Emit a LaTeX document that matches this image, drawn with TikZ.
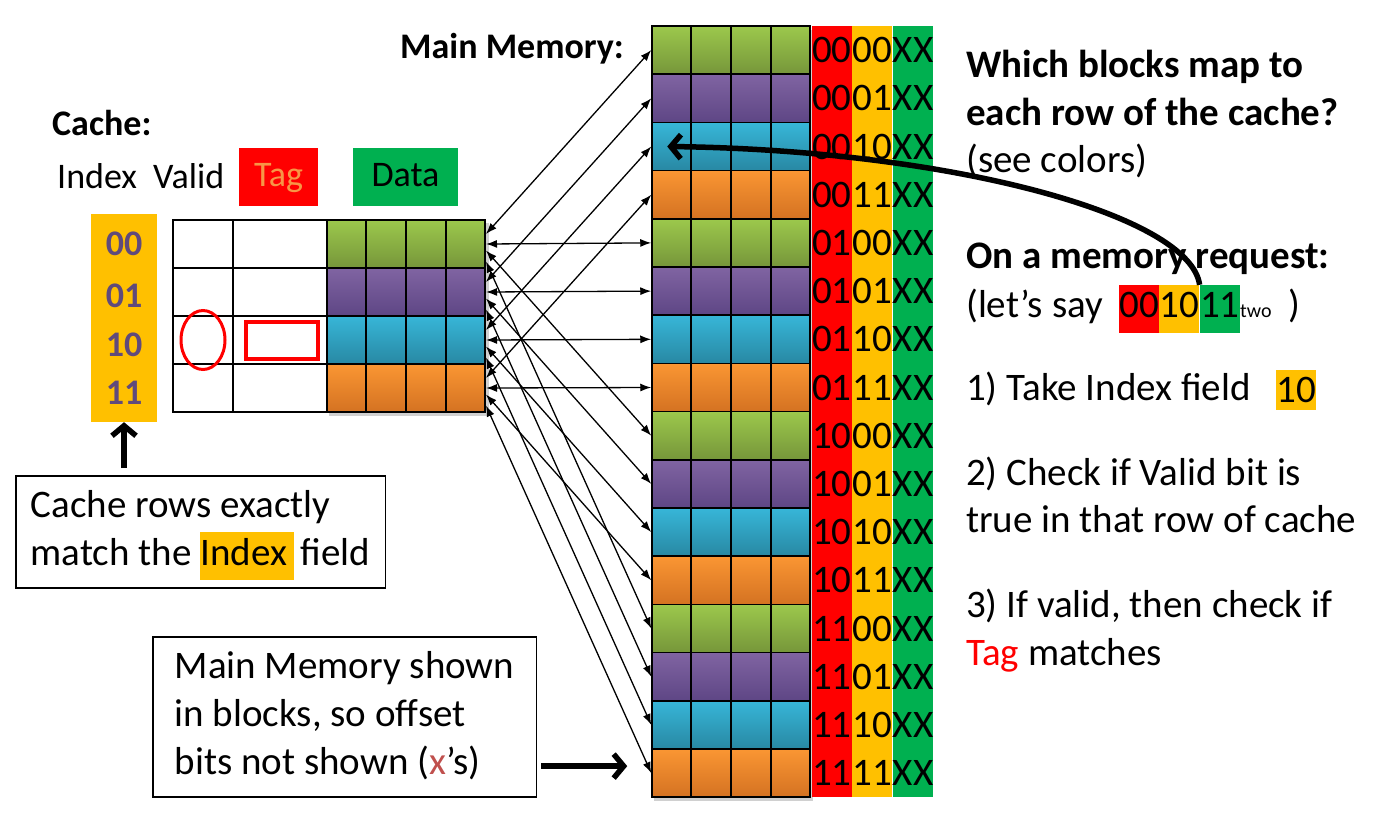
\documentclass[tikz,border=0pt]{standalone}
\usepackage{fontspec}
\setmainfont{Carlito}
\usetikzlibrary{arrows.meta, positioning, calc, shadows}

\definecolor{memred}{HTML}{FF0000}
\definecolor{memyellow}{HTML}{FFC000}
\definecolor{memgreen}{HTML}{00B050}
\definecolor{tagtext}{HTML}{F79646}
\definecolor{idxtext}{HTML}{604A7B}
\definecolor{xred}{HTML}{C0504D}
\definecolor{grntop}{HTML}{9CC84C}
\definecolor{grnbot}{HTML}{76963A}
\definecolor{prptop}{HTML}{8064A2}
\definecolor{prpbot}{HTML}{5E4685}
\definecolor{blutop}{HTML}{37B6D8}
\definecolor{blubot}{HTML}{2888A3}
\definecolor{orgtop}{HTML}{FA9633}
\definecolor{orgbot}{HTML}{D47222}

\newcommand{\bodyfont}{\fontsize{39}{48}\selectfont}
\newcommand{\headfont}{\fontsize{36}{44}\selectfont}

\tikzset{
  blk/.style={draw=black, line width=1.5pt, minimum width=158pt, minimum height=48.2pt, inner sep=0pt},
  grn/.style={top color=grntop, bottom color=grnbot},
  prp/.style={top color=prptop, bottom color=prpbot},
  blu/.style={top color=blutop, bottom color=blubot},
  org/.style={top color=orgtop, bottom color=orgbot},
  bits/.style={minimum width=40pt, minimum height=48.2pt, inner sep=0pt, text depth=0pt},
  cell/.style={draw=black, line width=2pt, minimum height=48pt, inner sep=0pt},
  txt/.style={anchor=base west, inner sep=0pt},
  note/.style={draw=black, line width=1.5pt, align=left, anchor=north west, inner ysep=8pt},
  link/.style={{Latex[length=11pt,width=8pt]}-{Latex[length=11pt,width=8pt]}, line width=1.3pt},
  bigarrow/.style={-{Straight Barb[length=10pt,width=24pt]}, line width=5.5pt}
}

\begin{document}
\begin{tikzpicture}[x=1pt, y=-1pt, font=\bodyfont]
  \fill[white] (0,0) rectangle (1397,825);
  \useasboundingbox (0,0) rectangle (1397,825);

  % Main memory blocks and addresses
  \fill[black!30, opacity=0.6] (654,30) rectangle (813,801);
  \foreach \j/\tb in {0/00,1/01,2/10,3/11}{
    \foreach \i/\ib/\col in {0/00/grn,1/01/prp,2/10/blu,3/11/org}{
      \pgfmathtruncatemacro\k{4*\j+\i}
      \node[blk, \col] (m\k) at (731, 50.1+192.8*\j+48.2*\i) {};
      \foreach \c in {1,2,3}
        \draw[line width=1.5pt] ($(m\k.north west)!\c/4!(m\k.north east)$) -- ($(m\k.south west)!\c/4!(m\k.south east)$);
      \node[bits, fill=memred, right=1pt of m\k] (t\k) {\tb};
      \node[bits, fill=memyellow, right=0pt of t\k] (n\k) {\ib};
      \node[bits, fill=memgreen, right=0pt of n\k] (o\k) {XX};
    }
  }
  \node[txt, font=\headfont\bfseries] (memlbl) at (400,58) {Main Memory:};

  % Cache
  \node[txt, font=\headfont\bfseries] (cachelbl) at (52,135) {Cache:};
  \node[txt, font=\headfont] (idxlbl) at (57,188) {Index};
  \node[txt, font=\headfont] (validlbl) at (153,188) {Valid};
  \node[fill=memred, minimum width=79pt, minimum height=58pt, inner sep=0pt, text height=26pt, text depth=8pt,
        text=tagtext, font=\headfont] (taglbl) at (278.5,177) {Tag};
  \node[fill=memgreen, minimum width=105pt, minimum height=58pt, inner sep=0pt, text height=26pt, text depth=8pt,
        font=\headfont] (datalbl) at (405.5,177) {Data};

  \node[fill=memyellow, minimum width=66pt, minimum height=208pt, inner sep=0pt] (idx) at (124,318) {};
  \foreach \i/\ib/\y in {0/00/244,1/01/296,2/10/345,3/11/393}
    \node[font=\headfont\bfseries, text=idxtext, inner sep=0pt] (i\i) at (124,\y) {\ib};

  \fill[black!30, opacity=0.6] (329,223) rectangle (489,416);
  \foreach \i/\col in {0/grn,1/prp,2/blu,3/org}{
    \node[cell, minimum width=60pt] (v\i) at (203,244+48*\i) {};
    \node[cell, minimum width=94pt] (g\i) at (280,244+48*\i) {};
    \node[blk, \col, line width=2pt, minimum height=48pt] (c\i) at (406,244+48*\i) {};
    \foreach \c in {1,2,3}
      \draw[line width=1.5pt] ($(c\i.north west)!\c/4!(c\i.north east)$) -- ($(c\i.south west)!\c/4!(c\i.south east)$);
  }
  \draw[memred, line width=3pt] (v2.center) ellipse [x radius=22, y radius=29.5];
  \node[draw=memred, line width=4pt, minimum width=72pt, minimum height=37pt, inner sep=0pt] (hit) at (282,340.5) {};

  % Connections
  \foreach \j/\f in {0/0.3,1/0.5,2/0.63,3/0.85}
    \foreach \i in {0,...,3}{
      \pgfmathtruncatemacro\k{4*\j+\i}
      \draw[link] ($(c\i.north east)!\f!(c\i.south east)$) -- (m\k.west);
    }

  % Notes
  \node[note, inner xsep=15pt] (box1) at (15,475)
    {\strut Cache rows exactly\\ match the {\setlength{\fboxsep}{0pt}\colorbox{memyellow}{\strut Index\hspace{7pt}}}\hspace{7pt}field\strut};
  \draw[bigarrow, shorten <=7pt] (idx.south |- box1.north) -- (idx.south);

  \node[note, inner xsep=22pt] (box2) at (152,636)
    {\strut Main Memory shown\\ in blocks, so offset\\ bits not shown (\textcolor{xred}{x}’s)\strut};
  \coordinate (ptr) at ($(m15.west)+(-24,-7)$);
  \draw[bigarrow, shorten <=4pt] (box2.east |- ptr) -- (ptr);

  % Right text
  \node[txt, font=\bodyfont\bfseries] (q1) at (966,77) {Which blocks map to};
  \node[txt, font=\bodyfont\bfseries] (q2) at (966,125) {each row of the cache?};
  \node[txt] (q3) at (966,172) {(see colors)};
  \node[txt, font=\bodyfont\bfseries] (r1) at (966,268) {On a memory request:};
  \node[txt] (r2) at (966,317) {(let’s say};
  \node[bits, fill=memred, minimum height=48pt, text height=32pt, text depth=16pt] (rt) at (1139,309) {00};
  \node[bits, fill=memyellow, minimum height=48pt, text height=32pt, text depth=16pt, right=0pt of rt] (rn) {10};
  \node[bits, fill=memgreen, minimum height=48pt, text height=32pt, text depth=16pt, right=0pt of rn] (ro) {11};
  \node[txt, font=\fontsize{20}{24}\selectfont] (two) at (1240,317) {two};
  \node[txt] (rp) at (1288,317) {)};

  \node[txt] (s1) at (966,400) {1) Take Index field};
  \node[bits, fill=memyellow, minimum height=40pt] (s1bits) at (1296,390) {10};
  \node[txt] (s2a) at (966,485) {2) Check if Valid bit is};
  \node[txt] (s2b) at (966,532) {true in that row of cache};
  \node[txt] (s3a) at (966,617) {3) If valid, then check if};
  \node[txt] (s3b) at (966,665) {\textcolor{memred}{Tag} matches};

  % Request arrow
  \draw[bigarrow] (ro.north west) .. controls (1190,215) and (950,150) .. ($(m2.west)+(16,0)$);
\end{tikzpicture}
\end{document}
